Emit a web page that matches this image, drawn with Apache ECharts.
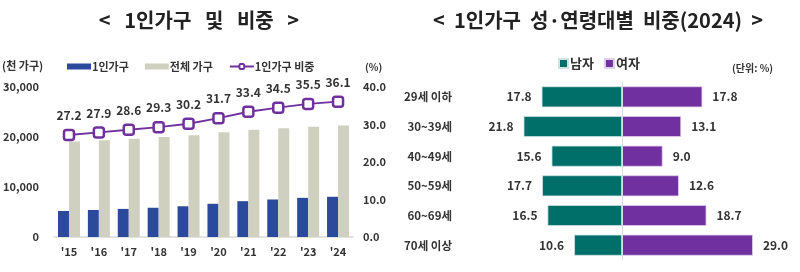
<!DOCTYPE html>
<html>
<head>
<meta charset="utf-8">
<script src="https://cdn.jsdelivr.net/npm/echarts@6/dist/echarts.min.js"></script>
<style>
  html, body { margin: 0; padding: 0; background: #fff; }
  #chart { width: 800px; height: 272px; }
</style>
</head>
<body>
<div id="chart"></div>
<script>
// 왼쪽: 1인가구 및 비중
const years = ["'15", "'16", "'17", "'18", "'19", "'20", "'21", "'22", "'23", "'24"];
const singleHouseholds = [5203, 5398, 5619, 5849, 6148, 6643, 7166, 7502, 7829, 8045];
const totalHouseholds = [19111, 19368, 19674, 19979, 20343, 20927, 21448, 21774, 22073, 22295];
const singleRatio = [27.2, 27.9, 28.6, 29.3, 30.2, 31.7, 33.4, 34.5, 35.5, 36.1];

// 오른쪽: 성·연령대별 비중(2024)
const ageGroups = ["29세 이하", "30~39세", "40~49세", "50~59세", "60~69세", "70세 이상"];
const male = [17.8, 21.8, 15.6, 17.7, 16.5, 10.6];
const female = [17.8, 13.1, 9.0, 12.6, 18.7, 29.0];

const FONT = "'Noto Sans CJK KR', 'Noto Sans', sans-serif";
const TXT = "#333333";
const BLUE = "#2b4a9b";
const GRAY = "#d0d0c1";
const PURPLE = "#7030a0";
const TEAL = "#006e69";

const chart = echarts.init(document.getElementById("chart"));

const option = {
  backgroundColor: "#fff",
  textStyle: { fontFamily: FONT },
  title: [
    {
      text: "<   1인가구   및   비중   >",
      left: 194, top: 5, textAlign: "center",
      textStyle: { fontFamily: FONT, fontSize: 20, fontWeight: "bold", color: "#222" },
    },
    {
      text: "<  1인가구  성·연령대별  비중(2024)  >",
      left: 593, top: 5, textAlign: "center",
      textStyle: { fontFamily: FONT, fontSize: 20, fontWeight: "bold", color: "#222" },
    },
  ],
  legend: [
    {
      left: 62, top: 56,
      itemWidth: 24, itemHeight: 6, itemGap: 16,
      textStyle: { fontFamily: FONT, fontSize: 11, fontWeight: "bold", color: TXT, padding: [0, 0, 0, -4] },
      data: [
        { name: "1인가구", icon: "rect" },
        { name: "전체 가구", icon: "rect" },
        { name: "1인가구 비중" },
      ],
    },
    {
      left: 553, top: 52,
      itemWidth: 9, itemHeight: 9, itemGap: 10,
      textStyle: { fontFamily: FONT, fontSize: 13, fontWeight: "bold", color: TXT, padding: [0, 0, 0, -3] },
      data: [
        { name: "남자", icon: "rect" },
        { name: "여자", icon: "rect" },
      ],
    },
  ],
  graphic: [
    { type: "text", left: 2, top: 60, style: { text: "(천 가구)", font: "bold 11px " + FONT, fill: TXT } },
    { type: "text", left: 365, top: 62, style: { text: "(%)", font: "bold 10px " + FONT, fill: TXT } },
    { type: "text", left: 732, top: 63, style: { text: "(단위: %)", font: "bold 10px " + FONT, fill: TXT } },
  ],
  grid: [
    { left: 50, right: 447, top: 87, bottom: 35 },
    { left: 464, right: 20, top: 82, bottom: 12 },
  ],
  xAxis: [
    {
      gridIndex: 0,
      type: "category",
      data: years,
      axisLine: { lineStyle: { color: "#d9d9d9", width: 1.5 } },
      axisTick: { show: false },
      axisLabel: { fontFamily: FONT, fontSize: 11, fontWeight: "bold", color: TXT, margin: 9 },
    },
    {
      gridIndex: 1,
      type: "value",
      min: -35, max: 35,
      show: false,
    },
  ],
  yAxis: [
    {
      gridIndex: 0,
      type: "value",
      min: 0, max: 30000, interval: 10000,
      splitLine: { show: false },
      axisLine: { show: false },
      axisTick: { show: false },
      axisLabel: {
        fontFamily: FONT, fontSize: 11, fontWeight: "bold", color: TXT, margin: 15,
        formatter: (v) => v.toLocaleString("en-US"),
      },
    },
    {
      gridIndex: 0,
      type: "value",
      position: "right",
      min: 0, max: 40, interval: 10,
      splitLine: { show: false },
      axisLine: { show: false },
      axisTick: { show: false },
      axisLabel: {
        fontFamily: FONT, fontSize: 11, fontWeight: "bold", color: TXT, margin: 10,
        formatter: (v) => v.toFixed(1),
      },
    },
    {
      gridIndex: 1,
      type: "category",
      data: ageGroups,
      inverse: true,
      axisLine: { show: false },
      axisTick: { show: false },
      axisLabel: { fontFamily: FONT, fontSize: 11.5, fontWeight: "bold", color: TXT, margin: 12 },
    },
  ],
  series: [
    {
      name: "1인가구",
      type: "bar",
      xAxisIndex: 0, yAxisIndex: 0,
      data: singleHouseholds,
      barWidth: 11,
      barGap: "0%",
      itemStyle: { color: BLUE },
    },
    {
      name: "전체 가구",
      type: "bar",
      xAxisIndex: 0, yAxisIndex: 0,
      data: totalHouseholds,
      barWidth: 11,
      itemStyle: { color: GRAY },
    },
    {
      name: "1인가구 비중",
      type: "line",
      xAxisIndex: 0, yAxisIndex: 1,
      data: singleRatio,
      symbol: "roundRect",
      symbolSize: 10,
      lineStyle: { color: PURPLE, width: 2 },
      itemStyle: { color: "#fff", borderColor: PURPLE, borderWidth: 2.5 },
      label: {
        show: true, position: "top", distance: 7,
        fontFamily: FONT, fontSize: 12, fontWeight: "bold", color: TXT,
        formatter: (p) => p.value.toFixed(1),
      },
      z: 5,
    },
    {
      name: "남자",
      type: "bar",
      xAxisIndex: 1, yAxisIndex: 2,
      data: male.map((v) => -v),
      barWidth: 21,
      barGap: "-100%",
      itemStyle: { color: TEAL, borderColor: "#cfe3e2", borderWidth: 0.8 },
      label: {
        show: true, position: "left", distance: 10,
        fontFamily: FONT, fontSize: 12, fontWeight: "bold", color: TXT,
        formatter: (p) => Math.abs(p.value).toFixed(1),
      },
      markLine: {
        silent: true,
        symbol: "none",
        label: { show: false },
        lineStyle: { color: "#d9dde3", width: 1, type: "solid" },
        data: [{ xAxis: 0 }],
      },
    },
    {
      name: "여자",
      type: "bar",
      xAxisIndex: 1, yAxisIndex: 2,
      data: female,
      barWidth: 21,
      itemStyle: { color: PURPLE, borderColor: "#e0d0ec", borderWidth: 0.8 },
      label: {
        show: true, position: "right", distance: 10,
        fontFamily: FONT, fontSize: 12, fontWeight: "bold", color: TXT,
        formatter: (p) => p.value.toFixed(1),
      },
    },
  ],
};

chart.setOption(option);
</script>
</body>
</html>
